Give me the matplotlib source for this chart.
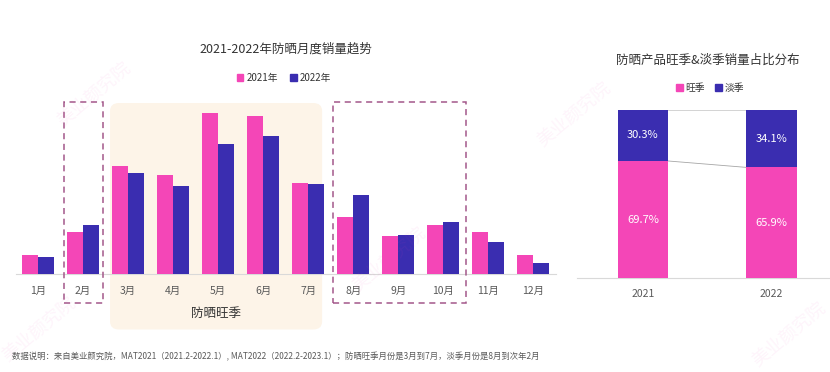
import numpy as np
import matplotlib
matplotlib.use('Agg')
import matplotlib.pyplot as plt
from matplotlib.patches import Patch, Rectangle, FancyBboxPatch

plt.rcParams['font.family'] = ['Noto Sans CJK SC', 'DejaVu Sans']

# monthly sales (relative index)
months = ['1月', '2月', '3月', '4月', '5月', '6月', '7月', '8月', '9月', '10月', '11月', '12月']
sales_2021 = [19, 42, 107.5, 99, 161, 158, 91, 56.5, 37.5, 48.5, 41.5, 19]
sales_2022 = [17, 49, 100.5, 87.5, 130, 137.5, 89.5, 78.5, 38.5, 52, 32, 11]

# peak / off season share
years = ['2021', '2022']
peak_share = [69.7, 65.9]
off_share = [30.3, 34.1]

PINK = '#F446B7'
BLUE = '#3A2DB0'
GRID = '#d9d9d9'
TXT = '#333333'
TICK = '#595959'

W, H = 830, 372
fig = plt.figure(figsize=(W / 100, H / 100), dpi=100)


def box(l, r, t, b):
    return [l / W, 1 - b / H, (r - l) / W, (b - t) / H]


# ---------------- left chart ----------------
ax = fig.add_axes(box(15.5, 555.8, 100, 273.5))
x = np.arange(len(months))
bw = 0.356
ax.bar(x - bw / 2, sales_2021, bw, color=PINK, zorder=3)
ax.bar(x + bw / 2, sales_2022, bw, color=BLUE, zorder=3)
ax.set_xlim(-0.5, 11.5)
ax.set_ylim(0, 173.5)
ax.set_xticks(x)
ax.set_xticklabels(months, fontsize=7.5, color=TICK)
ax.tick_params(axis='x', length=0, pad=9)
ax.set_yticks([])
for s in ['left', 'right', 'top']:
    ax.spines[s].set_visible(False)
ax.spines['bottom'].set_color(GRID)
ax.spines['bottom'].set_linewidth(0.8)

# peak season background
peach = FancyBboxPatch((1.6, -56), 6.31 - 1.6, 170.5 + 56,
                       boxstyle='round,pad=0,rounding_size=0.2',
                       mutation_aspect=40, facecolor='#FDF4E8',
                       edgecolor='none', zorder=0, clip_on=False)
ax.add_patch(peach)
ax.text(3.955, -39.5, '防晒旺季', ha='center', va='center', fontsize=9, color=TXT)

# off season dashed frames
for l, r in [(0.584, 1.451), (6.549, 9.504)]:
    ax.add_patch(Rectangle((l, -29.8), r - l, 171.8 + 29.8, fill=False,
                           edgecolor='#A3578A', linestyle=(0, (4, 3)),
                           linewidth=1.1, zorder=4, clip_on=False))

fig.text(285.6 / W, 1 - 49 / H, '2021-2022年防晒月度销量趋势', ha='center',
         va='center', fontsize=9, color=TXT)
fig.legend(handles=[Patch(color=PINK, label='2021年'), Patch(color=BLUE, label='2022年')],
           loc='center', bbox_to_anchor=(284 / W, 1 - 77.7 / H), ncol=2, frameon=False,
           fontsize=7, handlelength=0.7, handleheight=0.7, handletextpad=0.3,
           columnspacing=1.3, labelcolor=TXT)

# ---------------- right chart ----------------
ax2 = fig.add_axes(box(577, 829, 110, 278.3))
xr = np.arange(len(years))
w2 = 0.394
ax2.bar(xr, peak_share, w2, color=PINK, zorder=3)
ax2.bar(xr, off_share, w2, bottom=peak_share, color=BLUE, zorder=3)
ax2.set_xlim(-0.512, 1.445)
ax2.set_ylim(0, 100)
ax2.set_xticks(xr)
ax2.set_xticklabels(years, fontsize=7.5, color=TICK)
ax2.tick_params(axis='x', length=0, pad=8)
ax2.set_yticks([])
for s in ['left', 'right', 'top']:
    ax2.spines[s].set_visible(False)
ax2.spines['bottom'].set_color(GRID)
ax2.spines['bottom'].set_linewidth(0.8)

# connector lines between the stacks
ax2.plot([w2 / 2, 1 - w2 / 2], [peak_share[0], peak_share[1]], color='#a6a6a6', lw=0.6, zorder=2)
ax2.plot([w2 / 2, 1 - w2 / 2], [100, 100], color='#cccccc', lw=0.6, zorder=2, clip_on=False)

for i in range(len(years)):
    ax2.text(xr[i], peak_share[i] / 2, f'{peak_share[i]}%', ha='center', va='center',
             color='white', fontsize=8, zorder=5)
    ax2.text(xr[i], peak_share[i] + off_share[i] / 2, f'{off_share[i]}%', ha='center',
             va='center', color='white', fontsize=8, zorder=5)

fig.text(708 / W, 1 - 60.7 / H, '防晒产品旺季&淡季销量占比分布', ha='center',
         va='center', fontsize=9, color=TXT)
fig.legend(handles=[Patch(color=PINK, label='旺季'), Patch(color=BLUE, label='淡季')],
           loc='center', bbox_to_anchor=(710 / W, 1 - 88.3 / H), ncol=2, frameon=False,
           fontsize=7, handlelength=0.7, handleheight=0.7, handletextpad=0.3,
           columnspacing=1.0, labelcolor=TXT)

# faint watermarks
for wx, wy in [(40, 330), (390, 260), (575, 115), (790, 335), (95, 95)]:
    fig.text(wx / W, 1 - wy / H, '美业颜究院', rotation=40, fontsize=13, color=PINK,
             alpha=0.06, ha='center', va='center')

fig.text(11.7 / W, 1 - 357 / H,
         '数据说明：来自美业颜究院，MAT2021（2021.2-2022.1）, MAT2022（2022.2-2023.1）；'
         '防晒旺季月份是3月到7月，淡季月份是8月到次年2月',
         ha='left', va='center', fontsize=6, color=TICK)

fig.savefig('out.png', dpi=100)
